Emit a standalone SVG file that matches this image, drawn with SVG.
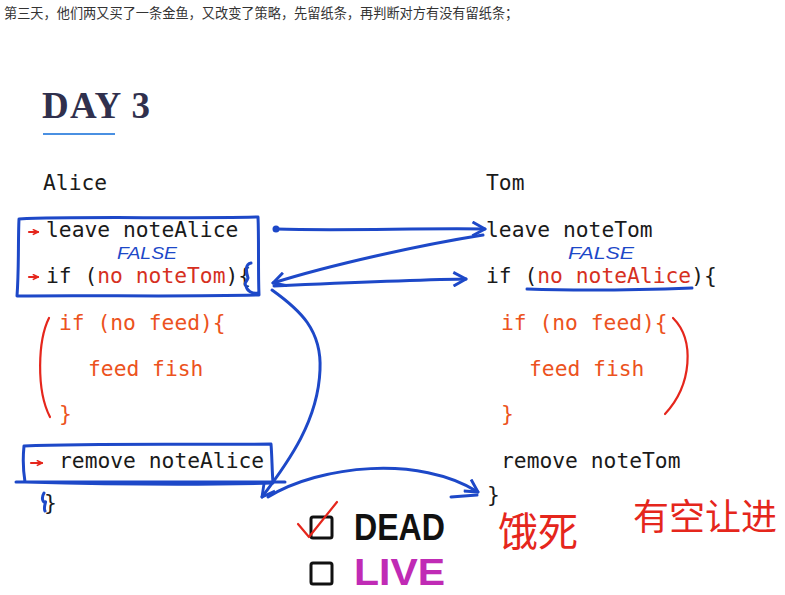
<svg xmlns="http://www.w3.org/2000/svg" width="785" height="595" viewBox="0 0 785 595">
<style>
.cap{font-family:"Noto Sans CJK SC","Noto Sans",sans-serif;font-size:13.2px;fill:#333}
.code{font-family:"DejaVu Sans Mono","Liberation Mono",monospace;font-size:21.3px;fill:#1a1a1a}
.red{fill:#d6301f}
.org{fill:#ec5220}
.ink{fill:none;stroke:#1d48c8;stroke-width:3;stroke-linecap:round;stroke-linejoin:round}
.rink{fill:none;stroke:#e5261c;stroke-width:2.2;stroke-linecap:round;stroke-linejoin:round}
.false{font-family:"Liberation Sans",sans-serif;font-style:italic;font-size:16px;fill:#1d48c8}
.hand{font-family:"Noto Sans CJK SC",sans-serif;fill:#e5261c}
.box{fill:none;stroke:#111;stroke-width:3}
</style>
<defs>
<marker id="ah" viewBox="0 0 14 14" refX="12" refY="7" markerWidth="16" markerHeight="16" markerUnits="userSpaceOnUse" orient="auto">
<path d="M1,1 L12,7 L1,13" fill="none" stroke="#1d48c8" stroke-width="2.5" stroke-linejoin="round"/>
</marker>
<marker id="ra" viewBox="0 0 8 8" refX="7" refY="4" markerWidth="7" markerHeight="7" markerUnits="userSpaceOnUse" orient="auto">
<path d="M1,1 L7,4 L1,7" fill="none" stroke="#e5261c" stroke-width="1.8"/>
</marker>
</defs>
<rect width="785" height="595" fill="#fff"/>
<text class="cap" x="4" y="18">第三天，他们两又买了一条金鱼，又改变了策略，先留纸条，再判断对方有没有留纸条；</text>

<g id="title">
<text x="42" y="118" font-family="Liberation Serif,serif" font-weight="bold" font-size="37" fill="#30304d" textLength="108" lengthAdjust="spacing">DAY 3</text>
<line x1="43" y1="134" x2="115" y2="134" stroke="#4a90e2" stroke-width="2"/>
</g>

<g id="alice">
<text class="code" x="43" y="190">Alice</text>
<text class="code" x="46" y="237">leave noteAlice</text>
<text class="code" x="46" y="283">if (<tspan class="red">no noteTom</tspan>){</text>
<text class="code org" x="59" y="330">if (no feed){</text>
<text class="code org" x="88" y="376">feed fish</text>
<text class="code org" x="59" y="421">}</text>
<text class="code" x="59" y="468">remove noteAlice</text>
<text class="code" x="44" y="510" font-size="17">}</text>
<path class="rink" d="M29,232 L38,232" marker-end="url(#ra)"/>
<path class="rink" d="M29,277 L38,277" marker-end="url(#ra)"/>
<path class="rink" d="M31,463 L42,463" marker-end="url(#ra)"/>
<path class="ink" d="M19,219 C80,216 180,219 258,217 C259,240 258,270 259,295 C180,297 90,295 17,296 C19,270 18,240 19,219"/>
<text class="false" x="117" y="259" textLength="60" lengthAdjust="spacingAndGlyphs">FALSE</text>
<path class="ink" d="M251,263 C245,264 246,272 248,278 C247,282 243,283 246,286 C247,291 252,294 258,293"/>
<path class="ink" d="M24,446 C100,443 200,445 271,444 C272,456 272,470 273,483 C200,485 100,484 25,482 C23,470 23,456 24,446 M16,482 L285,482"/>
<path class="ink" stroke-width="2" d="M44,493 C41,498 43,503 45,502 C47,500 43,507 45,511"/>
<path class="rink" d="M49,318 C38,340 36,390 50,417"/>
</g>

<g id="tom">
<text class="code" x="486" y="190">Tom</text>
<text class="code" x="486" y="237">leave noteTom</text>
<text class="code" x="486" y="283">if (<tspan class="red">no noteAlice</tspan>){</text>
<text class="code org" x="501" y="330">if (no feed){</text>
<text class="code org" x="529" y="376">feed fish</text>
<text class="code org" x="501" y="421">}</text>
<text class="code" x="501" y="468">remove noteTom</text>
<text class="code" x="487" y="502" font-size="15">}</text>
<text class="false" x="568" y="259" textLength="66" lengthAdjust="spacingAndGlyphs">FALSE</text>
<path class="ink" stroke-width="2.5" d="M527,289 C580,291 640,290 692,288"/>
<path class="rink" d="M673,318 C695,340 692,385 665,414"/>
</g>

<g id="connectors">
<circle cx="276" cy="229" r="3.5" fill="#1d48c8"/>
<path class="ink" d="M276,229 C340,231 420,228 485,229" marker-end="url(#ah)"/>
<path class="ink" d="M483,235 C420,245 330,265 273,283" marker-end="url(#ah)"/>
<path class="ink" d="M274,286 C340,283 410,280 466,279" marker-end="url(#ah)"/>
<path class="ink" d="M272,290 C300,310 322,330 320,370 C318,420 290,460 262,497" marker-end="url(#ah)"/>
<path class="ink" d="M268,497 C320,465 420,455 478,492" marker-end="url(#ah)"/>
<path class="ink" d="M451,497 L477,495"/>
</g>

<g id="result">
<rect class="box" x="311" y="517" width="21" height="21" rx="2"/>
<rect class="box" x="311" y="563" width="21" height="21" rx="2"/>
<path class="rink" stroke-width="2.5" d="M298,524 L309,537 L337,502"/>
<text x="354" y="540" font-family="Liberation Sans,sans-serif" font-weight="bold" font-size="37" fill="#111" textLength="91" lengthAdjust="spacingAndGlyphs">DEAD</text>
<text x="354" y="585" font-family="Liberation Sans,sans-serif" font-weight="bold" font-size="37" fill="#c02bb5" textLength="91" lengthAdjust="spacingAndGlyphs">LIVE</text>
<text class="hand" x="498" y="546" font-size="40">饿死</text>
<text class="hand" x="633" y="530" font-size="36">有空让进</text>
</g>
</svg>
